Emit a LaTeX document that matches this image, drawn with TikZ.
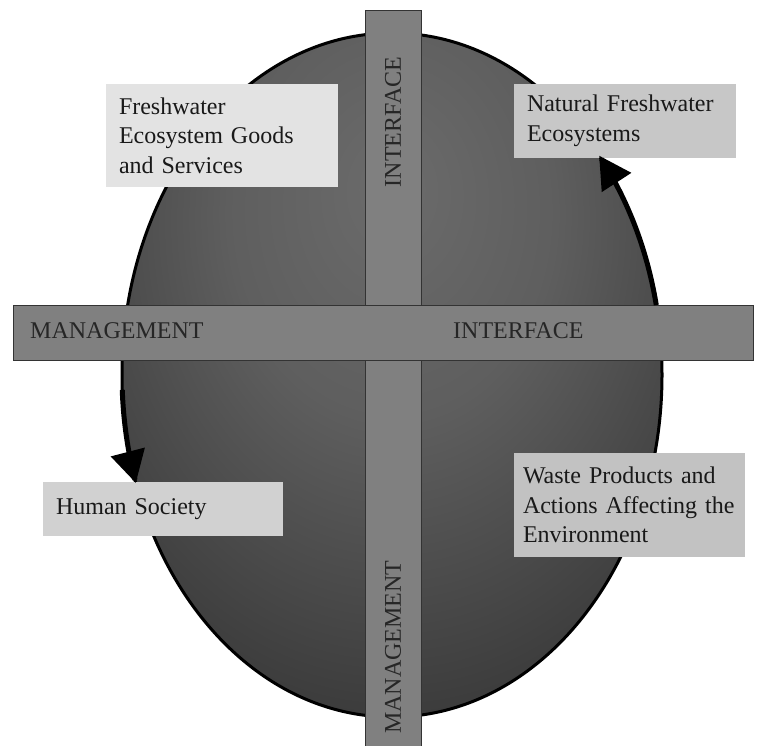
\documentclass[tikz,border=0pt]{standalone}
\usepackage{fontspec}
\setmainfont{Liberation Serif}
\usetikzlibrary{arrows.meta,bending}
\pgfdeclareradialshading{ovalshade}{\pgfpoint{0bp}{14bp}}{color(0bp)=(black!58); color(15bp)=(black!63); color(42bp)=(black!82); color(58bp)=(black!90); color(100bp)=(black!90)}

\begin{document}
\begin{tikzpicture}[x=1pt, y=-1pt,
		bar/.style = {draw=black!80, line width=1pt, fill=black!50, inner sep=0pt},
		barlabel/.style = {text=black!85, font=\fontsize{24}{29}\selectfont, inner sep=0pt},
		infobox/.style = {inner xsep=13pt, inner ysep=0pt, align=left, text=black!90, font=\fontsize{24}{29.5}\selectfont},
		flow/.style = {line width=5pt, -{Triangle[length=32pt, width=34pt]}}]
		\useasboundingbox (0,0) rectangle (770,745);
		\begin{scope}
		\shadedraw[line width=3pt, shading=ovalshade] (392,375) ellipse [x radius=270pt, y radius=342pt];
		\node[bar, minimum width=56pt, minimum height=745pt, anchor=north] (vbar) at (393,10) {};
		\node[bar, minimum width=740pt, minimum height=55pt, anchor=north west] (hbar) at (13,305) {};
		\node[barlabel, anchor=west] (mgmtleft) at (30,331) {MANAGEMENT};
		\node[barlabel, anchor=west] (intfright) at (453,331) {INTERFACE};
		\node[barlabel, rotate=90] (intftop) at (393,122) {INTERFACE};
		\node[barlabel, rotate=90] (mgmtbottom) at (393,647) {MANAGEMENT};
		\node[infobox, fill=black!11, text width=206pt, minimum height=103pt] (goods) at (222,135.5) {Freshwater\\Ecosystem Goods\\and Services};
		\node[infobox, fill=black!22, text width=196pt, minimum height=74pt] (natural) at (625,121) {Natural Freshwater\\Ecosystems};
		\node[infobox, fill=black!18, text width=214pt, minimum height=54pt] (society) at (163,509) {Human Society};
		\node[infobox, fill=black!24, inner xsep=9pt, text width=213pt, minimum height=104pt] (waste) at (629.5,505) {Waste Products and\\Actions Affecting the\\Environment};
		\draw[flow] plot[domain=11.8:39.9, samples=40] ({392+270*cos(\x)}, {375-342*sin(\x)});
		\draw[flow] plot[domain=182.5:198.4, samples=30] ({392+270*cos(\x)}, {375-342*sin(\x)});
		\end{scope}
\end{tikzpicture}
\end{document}
